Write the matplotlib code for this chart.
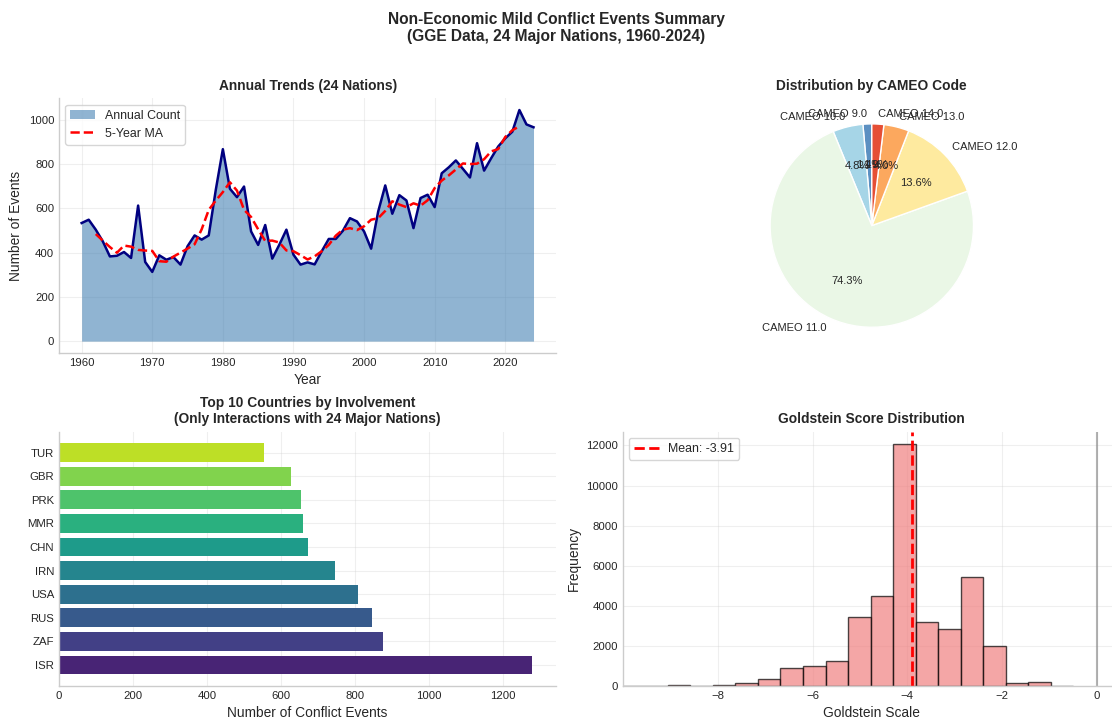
import matplotlib
matplotlib.use("Agg")
import matplotlib.pyplot as plt
import numpy as np
import pandas as pd

#--------------------------------------------#
                #DATA
#--------------------------------------------#

years = list(range(1960, 2025))
annual_counts = [534, 549, 504, 451, 383, 386, 403, 376, 613, 358,
                 313, 388, 368, 380, 346, 429, 478, 459, 478, 684,
                 868, 689, 651, 699, 496, 435, 525, 373, 436, 504,
                 391, 346, 356, 347, 406, 462, 462, 499, 556, 541,
                 496, 418, 586, 704, 576, 660, 636, 511, 647, 662,
                 606, 759, 786, 817, 779, 740, 895, 771, 827, 880,
                 917, 947, 1045, 980, 967]

cameo_labels = ["CAMEO 9.0", "CAMEO 10.0", "CAMEO 11.0", "CAMEO 12.0", "CAMEO 13.0", "CAMEO 14.0"]
cameo_share = [1.4, 4.8, 74.3, 13.6, 4.0, 1.9]

countries = ["ISR", "ZAF", "RUS", "USA", "IRN", "CHN", "MMR", "PRK", "GBR", "TUR"]
country_counts = [1280, 876, 847, 807, 747, 674, 660, 655, 628, 553]

gold_edges = np.linspace(-10, -0.5, 21)
gold_counts = [0, 8, 45, 15, 40, 150, 370, 890, 990, 1250,
               3420, 4480, 12080, 3190, 2820, 5440, 2010, 150, 200, 0]
gold_mean = -3.91

#--------------------------------------------#
                #STYLE
#--------------------------------------------#

plt.rcParams['font.family'] = ['Liberation Sans', 'DejaVu Sans']
plt.rcParams['text.color'] = '#262626'
plt.rcParams['axes.labelcolor'] = '#262626'
plt.rcParams['xtick.color'] = '#262626'
plt.rcParams['ytick.color'] = '#262626'
plt.rcParams['xtick.major.size'] = 0
plt.rcParams['ytick.major.size'] = 0
plt.rcParams['xtick.labelsize'] = 8.2
plt.rcParams['ytick.labelsize'] = 8.2
plt.rcParams['axes.edgecolor'] = '#cccccc'
plt.rcParams['axes.linewidth'] = 1.0
plt.rcParams['axes.labelsize'] = 9.9
plt.rcParams['axes.titlesize'] = 9.9
plt.rcParams['axes.titleweight'] = 'bold'
plt.rcParams['legend.fontsize'] = 8.9
plt.rcParams['legend.edgecolor'] = '#cccccc'


def style(ax):
    ax.grid(True, color='#cccccc', alpha=0.3, linewidth=0.8)
    ax.set_axisbelow(True)
    ax.spines['top'].set_visible(False)
    ax.spines['right'].set_visible(False)


fig = plt.figure(figsize=(11.12, 7.23), dpi=100)
fig.suptitle("Non-Economic Mild Conflict Events Summary\n(GGE Data, 24 Major Nations, 1960-2024)",
             fontsize=11.2, fontweight='bold', y=0.984)

ax1 = fig.add_axes([0.0531, 0.5122, 0.447, 0.3516])
ax2 = fig.add_axes([0.56, 0.5122, 0.448, 0.3516])
ax3 = fig.add_axes([0.0531, 0.0512, 0.447, 0.3517])
ax4 = fig.add_axes([0.56, 0.0512, 0.448, 0.3517])

# annual trend
ma = pd.Series(annual_counts).rolling(5, center=True).mean()
ax1.fill_between(years, annual_counts, color='steelblue', alpha=0.6, linewidth=0, label='Annual Count')
ax1.plot(years, annual_counts, color='navy', linewidth=1.8)
ax1.plot(years, ma, color='red', linestyle='--', linewidth=1.8, label='5-Year MA')
ax1.set_title("Annual Trends (24 Nations)")
ax1.set_xlabel("Year")
ax1.set_ylabel("Number of Events")
ax1.legend(loc='upper left')
style(ax1)

# pie
pie_colors = plt.cm.RdYlBu_r(np.linspace(0.15, 0.85, len(cameo_share)))
ax2.pie(cameo_share, labels=cameo_labels, colors=pie_colors, autopct='%1.1f%%',
        startangle=90, wedgeprops={'edgecolor': 'white', 'linewidth': 1},
        textprops={'fontsize': 8})
ax2.set_title("Distribution by CAMEO Code")

# top countries
bar_colors = plt.cm.viridis(np.linspace(0.1, 0.9, len(countries)))
ax3.barh(range(len(countries)), country_counts, color=bar_colors)
ax3.set_yticks(range(len(countries)))
ax3.set_yticklabels(countries)
ax3.set_xlabel("Number of Conflict Events")
ax3.set_title("Top 10 Countries by Involvement\n(Only Interactions with 24 Major Nations)")
style(ax3)

# goldstein
centers = (gold_edges[:-1] + gold_edges[1:]) / 2
ax4.hist(centers, bins=gold_edges, weights=gold_counts, color='lightcoral',
         edgecolor='black', alpha=0.7)
ax4.axvline(gold_mean, color='red', linestyle='--', linewidth=2, label='Mean: %.2f' % gold_mean)
ax4.axvline(0, color='gray', alpha=0.6, linewidth=1.5)
ax4.set_xlim(-10, 0.5)
ax4.set_xticks([-8, -6, -4, -2, 0])
ax4.set_title("Goldstein Score Distribution")
ax4.set_xlabel("Goldstein Scale")
ax4.set_ylabel("Frequency")
ax4.legend(loc='upper left')
style(ax4)

fig.savefig("out.png", dpi=100)
